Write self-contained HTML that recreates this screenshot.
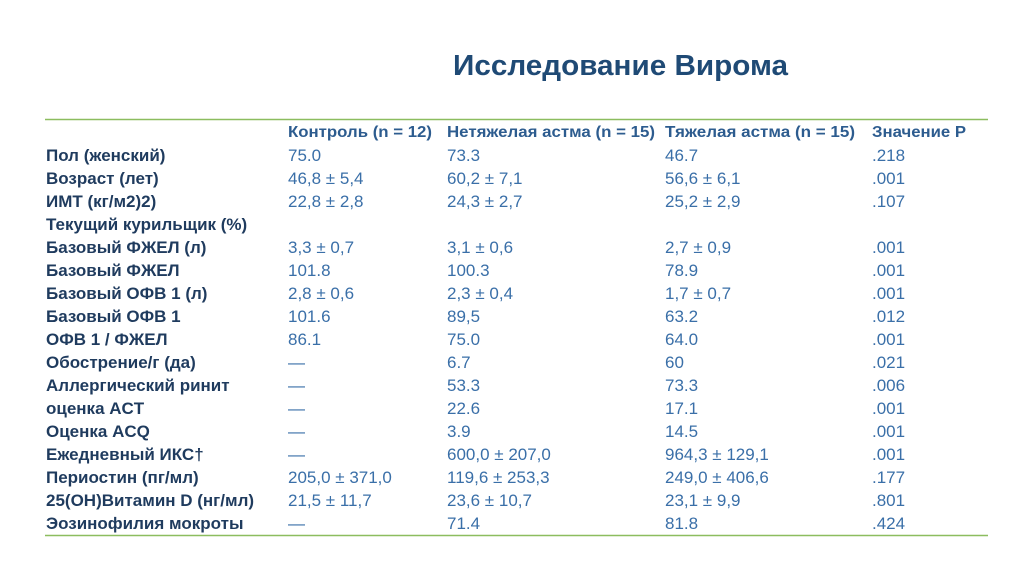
<!DOCTYPE html>
<html><head><meta charset="utf-8"><style>
html,body{margin:0;padding:0;background:#fff;}
svg{display:block}
.l{font:bold 17px "Liberation Sans",sans-serif;fill:#1f3b5e}
.v{font:17px "Liberation Sans",sans-serif;fill:#3a6fa8}
.h{font:bold 16px "Liberation Sans",sans-serif;fill:#2d5c8f}
</style></head><body>
<svg width="1024" height="574" xmlns="http://www.w3.org/2000/svg">
<text x="453" y="75" textLength="335" lengthAdjust="spacingAndGlyphs" style="font:bold 29px 'Liberation Sans',sans-serif;fill:#1f4a75">Исследование Вирома</text>
<line x1="45" y1="119.5" x2="988" y2="119.5" stroke="#8cbd5f" stroke-width="1.5"/>
<line x1="45" y1="535.5" x2="988" y2="535.5" stroke="#8cbd5f" stroke-width="1.5"/>
<g class="h">
<text x="288" y="137" textLength="144" lengthAdjust="spacingAndGlyphs">Контроль (n = 12)</text>
<text x="447" y="137" textLength="208" lengthAdjust="spacingAndGlyphs">Нетяжелая астма (n = 15)</text>
<text x="665" y="137" textLength="190" lengthAdjust="spacingAndGlyphs">Тяжелая астма (n = 15)</text>
<text x="872" y="137" textLength="94" lengthAdjust="spacingAndGlyphs">Значение P</text>
</g>
<g class="l">
<text x="46" y="161">Пол (женский)</text>
<text x="46" y="184">Возраст (лет)</text>
<text x="46" y="207">ИМТ (кг/м2)2)</text>
<text x="46" y="230">Текущий курильщик (%)</text>
<text x="46" y="253">Базовый ФЖЕЛ (л)</text>
<text x="46" y="276">Базовый ФЖЕЛ</text>
<text x="46" y="299">Базовый ОФВ 1 (л)</text>
<text x="46" y="322">Базовый ОФВ 1</text>
<text x="46" y="345">ОФВ 1 / ФЖЕЛ</text>
<text x="46" y="368">Обострение/г (да)</text>
<text x="46" y="391">Аллергический ринит</text>
<text x="46" y="414">оценка ACT</text>
<text x="46" y="437">Оценка ACQ</text>
<text x="46" y="460">Ежедневный ИКС†</text>
<text x="46" y="483">Периостин (пг/мл)</text>
<text x="46" y="506">25(OH)Витамин D (нг/мл)</text>
<text x="46" y="529">Эозинофилия мокроты</text>
</g>
<g class="v">
<text x="288" y="161">75.0</text><text x="447" y="161">73.3</text><text x="665" y="161">46.7</text><text x="872" y="161">.218</text>
<text x="288" y="184">46,8 ± 5,4</text><text x="447" y="184">60,2 ± 7,1</text><text x="665" y="184">56,6 ± 6,1</text><text x="872" y="184">.001</text>
<text x="288" y="207">22,8 ± 2,8</text><text x="447" y="207">24,3 ± 2,7</text><text x="665" y="207">25,2 ± 2,9</text><text x="872" y="207">.107</text>
<text x="288" y="253">3,3 ± 0,7</text><text x="447" y="253">3,1 ± 0,6</text><text x="665" y="253">2,7 ± 0,9</text><text x="872" y="253">.001</text>
<text x="288" y="276">101.8</text><text x="447" y="276">100.3</text><text x="665" y="276">78.9</text><text x="872" y="276">.001</text>
<text x="288" y="299">2,8 ± 0,6</text><text x="447" y="299">2,3 ± 0,4</text><text x="665" y="299">1,7 ± 0,7</text><text x="872" y="299">.001</text>
<text x="288" y="322">101.6</text><text x="447" y="322">89,5</text><text x="665" y="322">63.2</text><text x="872" y="322">.012</text>
<text x="288" y="345">86.1</text><text x="447" y="345">75.0</text><text x="665" y="345">64.0</text><text x="872" y="345">.001</text>
<text x="288" y="368">—</text><text x="447" y="368">6.7</text><text x="665" y="368">60</text><text x="872" y="368">.021</text>
<text x="288" y="391">—</text><text x="447" y="391">53.3</text><text x="665" y="391">73.3</text><text x="872" y="391">.006</text>
<text x="288" y="414">—</text><text x="447" y="414">22.6</text><text x="665" y="414">17.1</text><text x="872" y="414">.001</text>
<text x="288" y="437">—</text><text x="447" y="437">3.9</text><text x="665" y="437">14.5</text><text x="872" y="437">.001</text>
<text x="288" y="460">—</text><text x="447" y="460">600,0 ± 207,0</text><text x="665" y="460">964,3 ± 129,1</text><text x="872" y="460">.001</text>
<text x="288" y="483">205,0 ± 371,0</text><text x="447" y="483">119,6 ± 253,3</text><text x="665" y="483">249,0 ± 406,6</text><text x="872" y="483">.177</text>
<text x="288" y="506">21,5 ± 11,7</text><text x="447" y="506">23,6 ± 10,7</text><text x="665" y="506">23,1 ± 9,9</text><text x="872" y="506">.801</text>
<text x="288" y="529">—</text><text x="447" y="529">71.4</text><text x="665" y="529">81.8</text><text x="872" y="529">.424</text>
</g>
</svg>
</body></html>
